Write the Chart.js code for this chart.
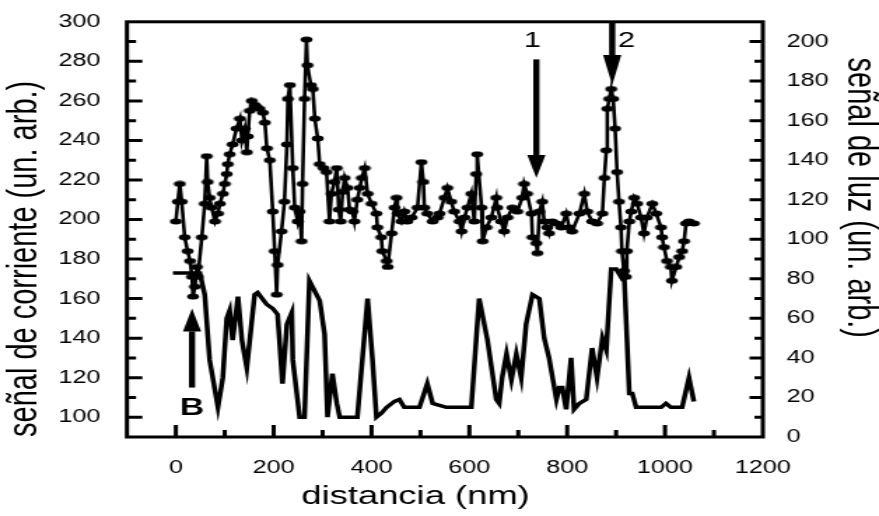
<!DOCTYPE html>
<html><head><meta charset="utf-8">
<style>
html,body{margin:0;padding:0;background:#fff;overflow:hidden;}
#wrap{width:628px;height:516px;transform:scaleX(1.39968);transform-origin:0 0;}
canvas{display:block;}
</style>
<script src="https://cdn.jsdelivr.net/npm/chart.js@4/dist/chart.umd.min.js"></script>
</head><body><div id="wrap"><canvas id="c" width="628" height="516"></canvas></div>
<script>
// ---- data ----
const distCorriente = [0,4,8,12,18,24,29,33,35,39,43,45,53,59,63,65,69,73,80,86,90,96,100,104,106,110,116,124,131,135,141,145,147,151,155,161,165,171,178,182,186,192,198,202,206,208,216,222,227,229,233,239,243,249,253,257,259,263,267,269,276,280,284,290,294,302,308,314,318,324,329,333,337,341,345,351,355,361,365,371,376,380,386,392,400,410,412,420,422,431,433,441,447,451,453,461,467,473,482,494,502,506,508,514,525,535,539,549,555,563,569,580,584,590,596,604,610,614,616,625,627,635,645,655,657,665,671,678,688,698,708,712,718,727,729,737,739,743,749,753,759,763,769,778,788,798,804,810,825,835,841,851,861,872,876,880,882,886,890,894,898,902,906,910,912,916,920,922,927,931,937,943,951,957,963,974,982,992,994,998,1004,1012,1014,1023,1029,1035,1039,1043,1049,1059];
const senalCorriente = [199,209,218,209,191,184,179,171,161,166,176,171,191,208,232,219,211,206,199,203,208,213,218,223,228,233,238,246,251,240,246,234,242,255,260,258,257,256,254,249,236,230,204,184,162,177,194,209,238,261,268,226,206,199,204,189,218,261,291,278,268,266,251,241,228,226,224,199,213,219,226,205,199,214,221,216,205,204,199,210,216,221,226,213,208,203,196,191,184,179,176,193,206,211,203,199,204,199,201,206,229,219,206,203,199,201,203,211,216,209,204,199,194,201,206,213,199,223,233,206,189,196,201,211,206,199,194,201,206,204,211,218,213,203,191,188,183,204,209,199,196,193,199,198,196,203,196,194,203,213,204,199,198,203,221,235,256,261,266,261,246,224,209,196,184,174,171,184,199,204,211,208,201,193,201,208,203,196,191,186,179,176,169,176,181,184,189,198,199,198];
const distLuz = [-6,49,59,69,86,96,104,110,116,127,135,145,161,167,186,198,208,218,227,237,239,253,263,273,294,304,310,320,329,335,371,392,402,410,420,431,447,457,467,484,498,514,525,539,553,604,620,637,655,661,667,676,686,696,706,716,729,743,753,763,778,784,790,798,808,814,825,839,851,861,872,880,890,900,910,916,927,933,941,992,1002,1012,1035,1049,1059];
const senalLuz = [83,83,72,39,15,30,60,64,49,71,49,35,72,73,67,65,62,27,57,63,39,10,10,79,69,52,10,32,17,10,10,70,39,10,12,15,18,19,15,15,15,27,17,16,15,15,70,49,19,17,30,42,29,42,30,57,72,70,50,40,19,25,25,14,40,14,17,19,45,30,50,44,85,85,81,85,22,22,15,15,17,15,15,30,18];
const xTickLabels = [0,200,400,600,800,1000,1200];
const leftTickLabels = [100,120,140,160,180,200,220,240,260,280,300];
const rightTickLabels = [0,20,40,60,80,100,120,140,160,180,200];

// annotations (data units)
const arrowMarks = [
  {x:737, from:281, to:221, head:23},
  {x:892, from:300, to:268, head:30},
  {x:33,  from:115, to:155, head:23}
];
const textMarks = [
  {text:'1', x:729, y:290.4, weight:'normal', size:22},
  {text:'2', x:921, y:290.2, weight:'normal', size:22},
  {text:'B', x:33,  y:104.6, weight:'bold',   size:24}
];

const FONT = '"Liberation Sans", Arial, Helvetica, sans-serif';

// marker: small flattened ellipse
const mk = document.createElement('canvas');
mk.width = 10; mk.height = 7;
(function(){const g=mk.getContext('2d');g.fillStyle='#000';g.beginPath();g.ellipse(5,3.5,4.3,3.0,0,0,Math.PI*2);g.fill();})();

const framePlugin = {
  id:'frame',
  beforeDraw(chart){
    const c=chart.ctx; c.save(); c.fillStyle='#fff'; c.fillRect(0,0,chart.width,chart.height); c.restore();
  },
  afterDraw(chart){
    const {ctx, chartArea:a, scales:{x, yL, yR}} = chart;
    ctx.save();
    ctx.strokeStyle='#000'; ctx.lineWidth=3;
    ctx.beginPath();
    x.ticks.forEach(t=>{ if(t.value<=x.min||t.value>=x.max) return; const p=x.getPixelForValue(t.value); const L=xTickLabels.includes(t.value)?12:7; ctx.moveTo(p,a.bottom); ctx.lineTo(p,a.bottom-L); });
    yL.ticks.forEach(t=>{ if(t.value<=yL.min||t.value>=yL.max) return; const p=yL.getPixelForValue(t.value); const L=leftTickLabels.includes(t.value)?11:6.5; ctx.moveTo(a.left,p); ctx.lineTo(a.left+L,p); });
    yR.ticks.forEach(t=>{ if(t.value<=yR.min||t.value>=yR.max) return; const p=yR.getPixelForValue(t.value); const L=rightTickLabels.includes(t.value)?9.5:6; ctx.moveTo(a.right,p); ctx.lineTo(a.right-L,p); });
    ctx.stroke();
    ctx.strokeRect(a.left, a.top, a.right-a.left, a.bottom-a.top);
    // arrows
    ctx.fillStyle='#000';
    arrowMarks.forEach(m=>{
      const px=x.getPixelForValue(m.x), y0=yL.getPixelForValue(m.from), y1=yL.getPixelForValue(m.to);
      const dir = y1>y0?1:-1;
      const hb = y1 - dir*m.head;
      ctx.fillRect(px-2.2, Math.min(y0,hb), 4.4, Math.abs(hb-y0));
      ctx.beginPath(); ctx.moveTo(px-6.5,hb); ctx.lineTo(px+6.5,hb); ctx.lineTo(px,y1); ctx.closePath(); ctx.fill();
    });
    ctx.textAlign='center'; ctx.textBaseline='middle';
    textMarks.forEach(m=>{
      ctx.font = m.weight+' '+m.size+'px '+FONT;
      ctx.fillText(m.text, x.getPixelForValue(m.x), yL.getPixelForValue(m.y));
    });
    // axis titles (x and right)
    ctx.font = '26px '+FONT;
    ctx.fillText('distancia (nm)', x.getPixelForValue(490), a.bottom+60);
    ctx.save();
    ctx.translate(a.right+69, yR.getPixelForValue(121));
    ctx.rotate(Math.PI/2);
    ctx.font = '29px '+FONT;
    ctx.fillText('señal de luz (un. arb.)', 0, 0);
    ctx.restore();
    ctx.restore();
  }
};

new Chart(document.getElementById('c'), {
  type:'line',
  data:{
    datasets:[
      {
        label:'señal de corriente',
        data: distCorriente.map((d,i)=>({x:d, y:senalCorriente[i]})),
        yAxisID:'yL',
        borderColor:'#000', borderWidth:2.6, tension:0,
        pointStyle: mk, pointRadius:4, pointBackgroundColor:'#000', pointBorderColor:'#000'
      },
      {
        label:'señal de luz',
        data: distLuz.map((d,i)=>({x:d, y:senalLuz[i]})),
        yAxisID:'yR',
        borderColor:'#000', borderWidth:3.5, tension:0, pointRadius:0
      }
    ]
  },
  options:{
    responsive:false, animation:false, devicePixelRatio:1,
    layout:{padding:{top:20,left:0,right:0,bottom:0}},
    plugins:{legend:{display:false}, tooltip:{enabled:false}},
    scales:{
      x:{
        type:'linear', min:-100, max:1200,
        afterFit(s){ s.height = 79; },
        grid:{display:false}, border:{display:false},
        ticks:{stepSize:100, autoSkip:false, maxRotation:0, padding:12, color:'#000',
          font:{family:FONT, size:18},
          callback:v=> xTickLabels.includes(v)? String(v) : ''}
      },
      yL:{
        type:'linear', position:'left', min:90, max:300,
        afterFit(s){ s.width = 90.7; },
        grid:{display:false}, border:{display:false},
        ticks:{stepSize:10, autoSkip:false, padding:11, color:'#000',
          font:{family:FONT, size:18},
          callback:v=> leftTickLabels.includes(v)? String(v) : ''},
        title:{display:true, text:'señal de corriente (un. arb.)', align:'start', color:'#000',
          font:{family:FONT, size:29, lineHeight:1}, padding:{top:3,bottom:0}}
      },
      yR:{
        type:'linear', position:'right', min:0, max:210,
        afterFit(s){ s.width = 83; },
        grid:{display:false}, border:{display:false},
        ticks:{stepSize:10, autoSkip:false, padding:9, color:'#000',
          font:{family:FONT, size:18},
          callback:v=> rightTickLabels.includes(v)? String(v) : ''}
      }
    }
  },
  plugins:[framePlugin]
});
</script>
</body></html>
